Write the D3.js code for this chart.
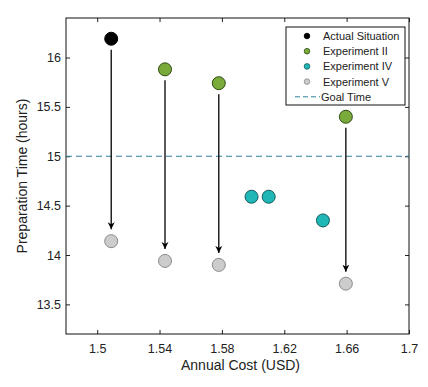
<!DOCTYPE html>
<html>
<head>
<meta charset="utf-8">
<script src="https://cdn.jsdelivr.net/npm/d3@7"></script>
<style>
  body { margin: 0; background: #fff; }
  text { font-family: "Liberation Sans", Arial, sans-serif; fill: #222; }
</style>
</head>
<body>
<script>
let actual = [{ x: 1.509, y: 16.19 }]
let exp2 = [{ x: 1.5435, y: 15.88 }, { x: 1.578, y: 15.74 }, { x: 1.6595, y: 15.40 }]
let exp4 = [{ x: 1.599, y: 14.59 }, { x: 1.61, y: 14.59 }, { x: 1.6448, y: 14.35 }]
let exp5 = [{ x: 1.509, y: 14.14 }, { x: 1.5435, y: 13.94 }, { x: 1.578, y: 13.90 }, { x: 1.6595, y: 13.71 }]
let arrowFrom = [actual[0], exp2[0], exp2[1], exp2[2]]
let goalTime = 15
let xTicks = [1.5, 1.54, 1.58, 1.62, 1.66, 1.7]
let yTicks = [13.5, 14, 14.5, 15, 15.5, 16]
let legendItems = ['Actual Situation', 'Experiment II', 'Experiment IV', 'Experiment V', 'Goal Time']

let width = 428, height = 387
let padLeft = 66, padRight = 409, padTop = 18, padBottom = 334

let xScale = d3.scaleLinear().domain([1.48, 1.7]).range([padLeft, padRight])
let yScale = d3.scaleLinear().domain([13.2, 16.4]).range([padBottom, padTop])

let svg = d3.select('body').append('svg').attr('width', width).attr('height', height)

svg.append('defs').append('marker')
  .attr('id', 'arrow')
  .attr('viewBox', '0 0 10 10')
  .attr('refX', 10).attr('refY', 5)
  .attr('markerWidth', 7).attr('markerHeight', 8)
  .attr('markerUnits', 'userSpaceOnUse')
  .attr('orient', 'auto')
  .append('path')
  .attr('d', 'M0,0 L10,5 L0,10 L3,5 Z')
  .attr('fill', '#000')

// axes
let xAxis = svg.append('g').attr('transform', `translate(0,${padBottom})`)
  .call(d3.axisBottom(xScale).tickValues(xTicks).tickSize(-4).tickPadding(10).tickFormat(d3.format('')))
let xTop = svg.append('g').attr('transform', `translate(0,${padTop})`)
  .call(d3.axisTop(xScale).tickValues(xTicks).tickSize(-4).tickFormat(''))
let yAxis = svg.append('g').attr('transform', `translate(${padLeft},0)`)
  .call(d3.axisLeft(yScale).tickValues(yTicks).tickSize(-4).tickPadding(5).tickFormat(d3.format('')))
let yRight = svg.append('g').attr('transform', `translate(${padRight},0)`)
  .call(d3.axisRight(yScale).tickValues(yTicks).tickSize(-4).tickFormat(''))

;[xAxis, xTop, yAxis, yRight].forEach(a => {
  a.select('.domain').remove()
  a.selectAll('.tick line').attr('stroke', '#222')
  a.selectAll('text').attr('font-size', 12.5).style('fill', '#222')
})

svg.append('rect')
  .attr('x', padLeft).attr('y', padTop)
  .attr('width', padRight - padLeft).attr('height', padBottom - padTop)
  .attr('fill', 'none').attr('stroke', '#111').attr('stroke-width', 1)

// goal line
svg.append('line')
  .attr('x1', padLeft).attr('x2', padRight)
  .attr('y1', yScale(goalTime)).attr('y2', yScale(goalTime))
  .attr('stroke', '#2f7f9c').attr('stroke-width', 1)
  .attr('stroke-dasharray', '6,4')

// arrows
svg.selectAll('.arrow')
  .data(arrowFrom.map((d, i) => [d, exp5[i]]))
  .enter().append('line')
  .attr('x1', d => xScale(d[0].x)).attr('x2', d => xScale(d[1].x))
  .attr('y1', d => yScale(d[0].y) + 11)
  .attr('y2', d => yScale(d[1].y) - 12)
  .attr('stroke', '#000').attr('stroke-width', 1.3)
  .attr('marker-end', 'url(#arrow)')

let series = [
  { data: actual, fill: '#000', stroke: '#000' },
  { data: exp2, fill: '#7aab3a', stroke: '#2d4a14' },
  { data: exp4, fill: '#1fb8b6', stroke: '#125a5c' },
  { data: exp5, fill: '#cccccc', stroke: '#8a8a8a' }
]

series.forEach(s => {
  svg.append('g').selectAll('circle')
    .data(s.data)
    .enter().append('circle')
    .attr('cx', d => xScale(d.x))
    .attr('cy', d => yScale(d.y))
    .attr('r', 6.5)
    .attr('fill', s.fill)
    .attr('stroke', s.stroke)
    .attr('stroke-width', 1)
})

// axis titles
svg.append('text')
  .attr('x', (padLeft + padRight) / 2 + 3).attr('y', 370)
  .attr('text-anchor', 'middle').attr('font-size', 14)
  .text('Annual Cost (USD)')

svg.append('text')
  .attr('transform', `translate(27,${(padTop + padBottom) / 2}) rotate(-90)`)
  .attr('text-anchor', 'middle').attr('font-size', 14)
  .text('Preparation Time (hours)')

// legend
let lg = svg.append('g')
lg.append('rect')
  .attr('x', 286).attr('y', 27).attr('width', 119).attr('height', 78)
  .attr('fill', '#fff').attr('stroke', '#111')

let rowY = i => 36 + i * 15.2
legendItems.forEach((name, i) => {
  if (i < 4) {
    lg.append('circle')
      .attr('cx', 307).attr('cy', rowY(i)).attr('r', 2.8)
      .attr('fill', series[i].fill).attr('stroke', series[i].stroke).attr('stroke-width', 0.8)
  } else {
    lg.append('line')
      .attr('x1', 295).attr('x2', 320).attr('y1', rowY(i)).attr('y2', rowY(i))
      .attr('stroke', '#2f7f9c').attr('stroke-dasharray', '5,3')
  }
  lg.append('text')
    .attr('x', i < 4 ? 323 : 321).attr('y', rowY(i) + 4)
    .attr('font-size', 11)
    .text(name)
})
</script>
</body>
</html>
